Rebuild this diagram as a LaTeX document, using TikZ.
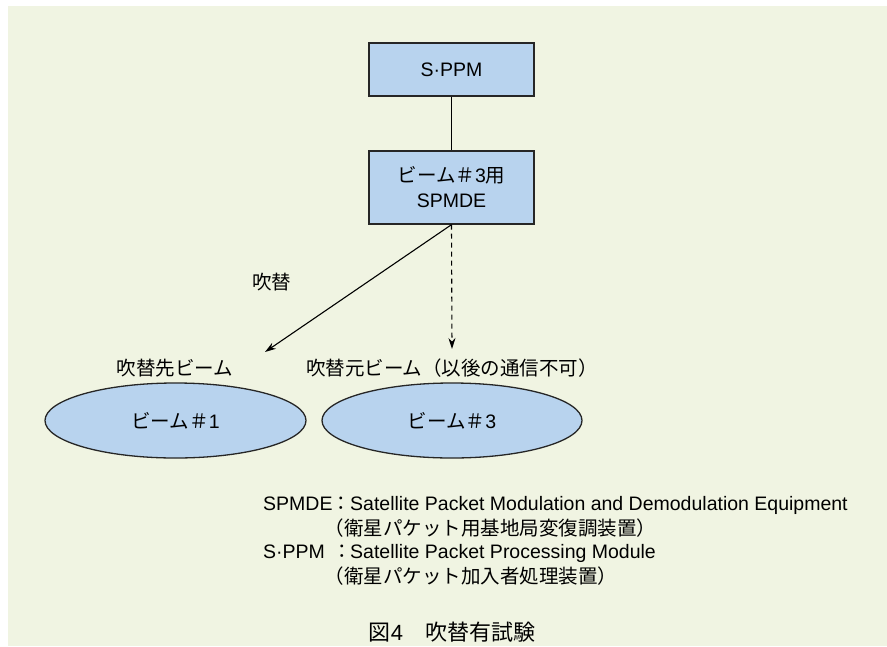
\documentclass[tikz,border=0pt]{standalone}
\usepackage{fontspec}
\setmainfont{Liberation Sans}
\newfontfamily\jp{Noto Sans CJK JP}
\usetikzlibrary{arrows.meta,shapes.geometric}
\definecolor{bgc}{HTML}{F0F4E2}
\definecolor{boxc}{HTML}{B8D3EE}
\begin{document}
\begin{tikzpicture}[x=1pt,y=-1pt,
  every node/.style={font=\fontsize{19.5}{25}\selectfont},
  boxs/.style={draw=black!85,line width=1.3pt,fill=boxc,minimum width=165pt,align=center,inner sep=0pt},
  beam/.style={ellipse,draw=black!85,line width=1.3pt,fill=boxc,inner sep=0pt},
  lbl/.style={inner sep=0pt},
  lg/.style={inner sep=0pt,anchor=base west},
  arr/.style={line width=1.1pt,-{Stealth[length=11pt,width=7pt]}},
  conn/.style={line width=1.1pt}]
\useasboundingbox (0,0) rectangle (887,646);
\fill[white] (0,0) rectangle (887,646);
\fill[bgc] (8,6) rectangle (887,646);
% boxes
\node[boxs,minimum height=53pt] (sppm) at (451.5,69.5) {S·PPM};
\node[boxs,minimum height=73pt] (spmde) at (451.5,187.5) {{\jp ビーム＃}3{\jp 用}\\SPMDE};
\draw[conn] (sppm.south) -- (spmde.south |- sppm.south) -- (spmde.north);
% beams
\node[beam,minimum width=261pt,minimum height=75pt] (b1) at (175.5,420.5) {{\jp ビーム＃}1};
\node[beam,minimum width=260pt,minimum height=75pt] (b3) at (452,420.5) {{\jp ビーム＃}3};
% arrows
\coordinate (t1) at (265,352);
\coordinate (t3) at (452,349);
\draw[arr] (spmde.south) -- (t1);
\draw[arr,dash pattern=on 5pt off 4pt] (spmde.south) -- (t3);
% labels
\node[lbl] (swlab) at (271.5,282) {\jp 吹替};
\node[lbl] (dstlab) at (175,368) {\jp 吹替先ビーム};
\node[lbl] (srclab) at (452,368) {\jp 吹替元ビーム（以後の通信不可）};
% legend
\node[lg] (l1a) at (263,510) {SPMDE};
\node[lg,anchor=base] (l1c) at (341,510) {\jp ：};
\node[lg] (l1b) at (350,510) {Satellite Packet Modulation and Demodulation Equipment};
\node[lg] (l2) at (324.5,535) {\jp （衛星パケット用基地局変復調装置）};
\node[lg] (l3a) at (263,558) {S·PPM};
\node[lg,anchor=base] (l3c) at (342,558) {\jp ：};
\node[lg] (l3b) at (350,558) {Satellite Packet Processing Module};
\node[lg] (l4) at (324.5,583) {\jp （衛星パケット加入者処理装置）};
% caption
\node[lbl,anchor=base,font=\fontsize{22}{26}\selectfont] (cap) at (452,640) {{\jp 図}4{\jp 　吹替有試験}};
\end{tikzpicture}
\end{document}
